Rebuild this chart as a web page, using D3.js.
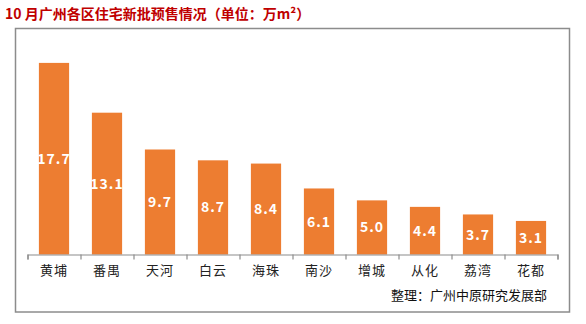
<!DOCTYPE html>
<html>
<head>
<meta charset="utf-8">
<script src="https://cdn.jsdelivr.net/npm/d3@7"></script>
<style>
  html, body { margin: 0; padding: 0; background: #fff; }
  svg { display: block; }
</style>
</head>
<body>
<svg id="chart" width="586" height="324"></svg>
<script>
// 10月广州各区住宅新批预售面积（万㎡）
const districts = ["黄埔", "番禺", "天河", "白云", "海珠", "南沙", "增城", "从化", "荔湾", "花都"];
const areas = [17.7, 13.1, 9.7, 8.7, 8.4, 6.1, 5.0, 4.4, 3.7, 3.1];
const titleText = "10 月广州各区住宅新批预售情况（单位：万m²）";
const sourceText = "整理：广州中原研究发展部";

const svg = d3.select("#chart");
const font = "'Noto Sans CJK SC', 'Noto Sans', sans-serif";

// title
svg.append("text")
  .attr("x", 5).attr("y", 19)
  .attr("font-family", font)
  .attr("font-size", 14)
  .attr("font-weight", "bold")
  .attr("fill", "#c00000")
  .text(titleText);

// outer frame
svg.append("rect")
  .attr("x", 15.5).attr("y", 28.5)
  .attr("width", 554).attr("height", 283.5)
  .attr("fill", "none")
  .attr("stroke", "#8c8c8c")
  .attr("stroke-width", 1.5);

const x = d3.scaleBand().domain(districts).range([27.5, 557.5]).paddingInner(0.43).paddingOuter(0.215);
const y = d3.scaleLinear().domain([0, 20]).range([254.5, 38]);

// bars
svg.append("g").selectAll("rect")
  .data(districts)
  .join("rect")
  .attr("x", d => x(d))
  .attr("y", (d, i) => y(areas[i]))
  .attr("width", x.bandwidth())
  .attr("height", (d, i) => y(0) - y(areas[i]))
  .attr("fill", "#ed7d31");

// value labels
svg.append("g").selectAll("text")
  .data(districts)
  .join("text")
  .attr("x", d => x(d) + x.bandwidth() / 2)
  .attr("y", (d, i) => (y(areas[i]) + y(0)) / 2)
  .attr("dy", "0.36em")
  .attr("text-anchor", "middle")
  .attr("font-family", font)
  .attr("font-size", 14)
  .attr("font-weight", "bold")
  .attr("letter-spacing", 1)
  .attr("fill", "#fff")
  .text((d, i) => areas[i].toFixed(1));

// category axis
const axis = d3.axisBottom(d3.scaleLinear().domain([0, districts.length]).range([27.5, 557.5]))
  .tickValues(d3.range(districts.length + 1))
  .tickSize(5)
  .tickFormat("");
const gAxis = svg.append("g").attr("transform", `translate(0,${y(0)})`).call(axis);
gAxis.select(".domain").attr("stroke", "#8c8c8c").attr("stroke-width", 1.2);
gAxis.selectAll(".tick line").attr("stroke", "#8c8c8c").attr("stroke-width", 1.2);

svg.append("g").selectAll("text")
  .data(districts)
  .join("text")
  .attr("x", d => x(d) + x.bandwidth() / 2)
  .attr("y", 270)
  .attr("dy", "0.36em")
  .attr("text-anchor", "middle")
  .attr("font-family", font)
  .attr("font-size", 13)
  .attr("letter-spacing", 1)
  .attr("fill", "#222")
  .text(d => d);

// source note
svg.append("text")
  .attr("x", 547).attr("y", 295)
  .attr("dy", "0.36em")
  .attr("text-anchor", "end")
  .attr("font-family", font)
  .attr("font-size", 13)
  .attr("fill", "#111")
  .text(sourceText);
</script>
</body>
</html>
